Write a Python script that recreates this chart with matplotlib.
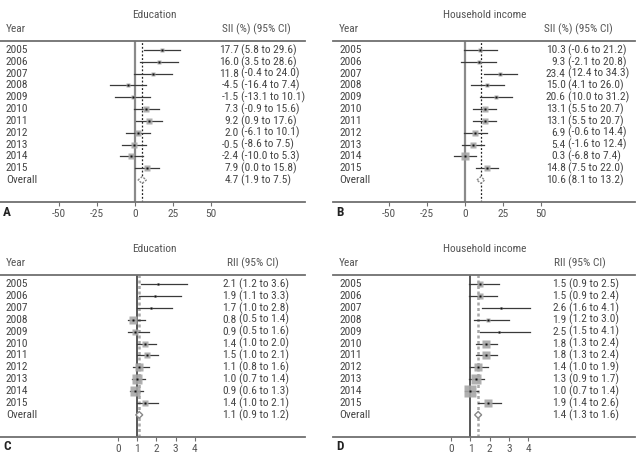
import matplotlib
matplotlib.use("Agg")
import matplotlib.pyplot as plt
from matplotlib import transforms
from matplotlib.patches import Polygon

plt.rcParams['font.family'] = ['Roboto Condensed', 'DejaVu Sans']

years = ["2005", "2006", "2007", "2008", "2009", "2010", "2011", "2012", "2013", "2014", "2015"]

# Panel A: SII education
a_est = [17.7, 16.0, 11.8, -4.5, -1.5, 7.3, 9.2, 2.0, -0.5, -2.4, 7.9]
a_lo = [5.8, 3.5, -0.4, -16.4, -13.1, -0.9, 0.9, -6.1, -8.6, -10.0, 0.0]
a_hi = [29.6, 28.6, 24.0, 7.4, 10.1, 15.6, 17.6, 10.1, 7.5, 5.3, 15.8]
a_w = [3, 3, 3, 3, 3, 5, 5, 5, 6, 6, 5]
a_overall = (4.7, 1.9, 7.5)

# Panel B: SII household income
b_est = [10.3, 9.3, 23.4, 15.0, 20.6, 13.1, 13.1, 6.9, 5.4, 0.3, 14.8]
b_lo = [-0.6, -2.1, 12.4, 4.1, 10.0, 5.5, 5.5, -0.6, -1.6, -6.8, 7.5]
b_hi = [21.2, 20.8, 34.3, 26.0, 31.2, 20.7, 20.7, 14.4, 12.4, 7.4, 22.0]
b_w = [3, 3, 3, 4, 3, 5, 5, 5, 6, 7, 5]
b_overall = (10.6, 8.1, 13.2)

# Panel C: RII education
c_est = [2.1, 1.9, 1.7, 0.8, 0.9, 1.4, 1.5, 1.1, 1.0, 0.9, 1.4]
c_lo = [1.2, 1.1, 1.0, 0.5, 0.5, 1.0, 1.0, 0.8, 0.7, 0.6, 1.0]
c_hi = [3.6, 3.3, 2.8, 1.4, 1.6, 2.0, 2.1, 1.6, 1.4, 1.3, 2.1]
c_w = [2, 2, 2, 7, 5, 6, 6, 8, 9, 9, 6]
c_overall = (1.1, 0.9, 1.2)

# Panel D: RII household income
d_est = [1.5, 1.5, 2.6, 1.9, 2.5, 1.8, 1.8, 1.4, 1.3, 1.0, 1.9]
d_lo = [0.9, 0.9, 1.6, 1.2, 1.5, 1.3, 1.3, 1.0, 0.9, 0.7, 1.4]
d_hi = [2.5, 2.4, 4.1, 3.0, 4.1, 2.4, 2.4, 1.9, 1.7, 1.4, 2.6]
d_w = [5, 5, 2, 4, 2, 7, 7, 8, 9, 11, 7]
d_overall = (1.4, 1.3, 1.6)

W, H = 636, 459
fig = plt.figure(figsize=(W / 100, H / 100), dpi=100)

TXT = '#444444'
FS = 8.2


def fmt(v):
    return f"{v:.1f}"


def panel(px_left, px_right, px_top, px_bot, xlim, ticks, est, lo, hi, wts, overall,
          title, header, letter, sii, est_right_px, ci_left_px, header_px, title_px):
    ax = fig.add_axes([px_left / W, 1 - px_bot / H, (px_right - px_left) / W, (px_bot - px_top) / H])
    ax.set_xlim(*xlim)
    ax.set_ylim(12.86, -0.76)
    for s in ['left', 'right']:
        ax.spines[s].set_visible(False)
    for s in ['top', 'bottom']:
        ax.spines[s].set_color('#707070')
        ax.spines[s].set_linewidth(1.3)
    ax.set_yticks([])
    ax.set_xticks(ticks)
    ax.set_xticklabels([str(t) for t in ticks], color='#555555', fontsize=FS)
    ax.tick_params(axis='x', direction='out', length=3, width=0.8, color='#707070', pad=2)
    ax.patch.set_alpha(0)

    ref = 0 if sii else 1
    if sii:
        ax.axvline(ref, color='#8a8a8a', lw=1.6, zorder=1)
        ax.axvline(overall[0], color='#222222', lw=0.9, ls=(0, (1.5, 1.5)), zorder=1)
    else:
        ax.axvline(ref, color='#2a2a2a', lw=1.1, zorder=1)
        ax.axvline(overall[0], color='#a8a8a8', lw=1.8, ls=(0, (1.2, 1.0)), zorder=1)

    for i in range(len(est)):
        ax.plot([lo[i], hi[i]], [i, i], color='#3a3a3a', lw=0.9, zorder=2)
        ax.plot(est[i], i, marker='s', ms=wts[i] * 0.75, mfc='#a6a6a6', mec='none',
                alpha=0.9, zorder=3)
        ax.plot(est[i], i, marker='s', ms=2.0, mfc='#111111', mec='none', zorder=4)

    n = len(est)
    oe, ol, oh = overall
    dx = (xlim[1] - xlim[0]) / (px_right - px_left)
    half = max((oh - ol) / 2, 3.5 * dx)
    hh = 0.28
    poly = Polygon([[oe - half, n], [oe, n - hh], [oe + half, n], [oe, n + hh]], closed=True,
                   facecolor='white', edgecolor='#888888', lw=1.0,
                   ls=(0, (1.5, 1)) if sii else '-', zorder=5)
    ax.add_patch(poly)

    tr = transforms.blended_transform_factory(fig.transFigure, ax.transData)
    lx = (px_left + 6) / W
    for i, y in enumerate(years):
        ax.text(lx, i, y, transform=tr, ha='left', va='center', fontsize=FS, color=TXT, clip_on=False)
        ax.text(est_right_px / W, i, fmt(est[i]), transform=tr, ha='right', va='center',
                fontsize=FS, color=TXT, clip_on=False)
        ax.text(ci_left_px / W, i, f"({fmt(lo[i])} to {fmt(hi[i])})", transform=tr, ha='left',
                va='center', fontsize=FS, color=TXT, clip_on=False)
    ax.text(lx, n, "Overall", transform=tr, ha='left', va='center', fontsize=FS, color=TXT, clip_on=False)
    ax.text(est_right_px / W, n, fmt(oe), transform=tr, ha='right', va='center', fontsize=FS,
            color=TXT, clip_on=False)
    ax.text(ci_left_px / W, n, f"({fmt(ol)} to {fmt(oh)})", transform=tr, ha='left', va='center',
            fontsize=FS, color=TXT, clip_on=False)

    fig.text(title_px / W, 1 - (px_top - 26) / H, title, ha='center', va='center', fontsize=FS,
             color='#555555')
    fig.text((px_left + 6) / W, 1 - (px_top - 12) / H, "Year", ha='left', va='center', fontsize=FS,
             color='#555555')
    fig.text(header_px / W, 1 - (px_top - 12) / H, header, ha='left', va='center', fontsize=FS,
             color='#555555')
    fig.text((px_left + 3) / W, 1 - (px_bot + 10) / H, letter, ha='left', va='center',
             fontsize=9.5, fontweight='bold', color='#222222')
    return ax


panel(0, 305, 41, 202, (-88.8, 111.8), [-50, -25, 0, 25, 50], a_est, a_lo, a_hi, a_w, a_overall,
      "Education", "SII (%) (95% CI)", "A", True, 238.5, 241.0, 222, 154)
panel(333, 635, 41, 202, (-86.6, 112.0), [-50, -25, 0, 25, 50], b_est, b_lo, b_hi, b_w, b_overall,
      "Household income", "SII (%) (95% CI)", "B", True, 565.5, 568.0, 544, 485)
panel(0, 305, 275, 437, (-6.19, 9.78), [0, 1, 2, 3, 4], c_est, c_lo, c_hi, c_w, c_overall,
      "Education", "RII (95% CI)", "C", False, 236.5, 239.0, 227, 154)
panel(333, 635, 275, 437, (-6.16, 9.57), [0, 1, 2, 3, 4], d_est, d_lo, d_hi, d_w, d_overall,
      "Household income", "RII (95% CI)", "D", False, 566.5, 569.0, 554, 485)

fig.savefig("out.png", dpi=100)
